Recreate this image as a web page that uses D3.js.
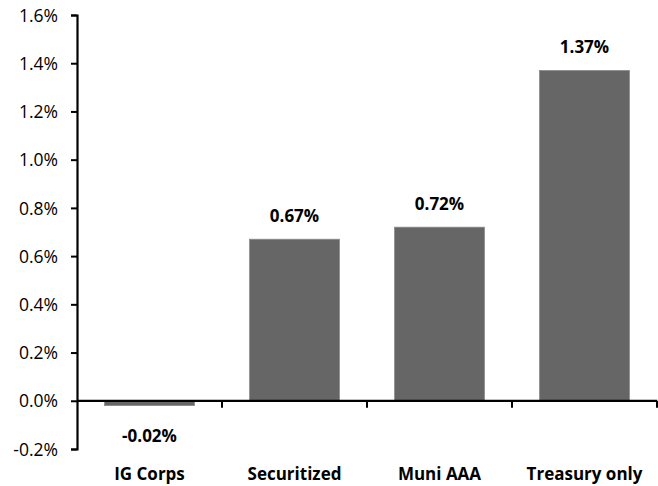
<!DOCTYPE html>
<html>
<head>
<meta charset="utf-8">
<script src="https://cdn.jsdelivr.net/npm/d3@7"></script>
<style>
  html, body { margin: 0; padding: 0; background: #fff; }
  svg { display: block; font-family: "Open Sans", sans-serif; }
</style>
</head>
<body>
<svg id="chart" width="658" height="486"></svg>
<script>
// Excess return by sector
const categories = ["IG Corps", "Securitized", "Muni AAA", "Treasury only"];
const values = [-0.02, 0.67, 0.72, 1.37];
const valueLabels = ["-0.02%", "0.67%", "0.72%", "1.37%"];
const yTicks = [-0.2, 0.0, 0.2, 0.4, 0.6, 0.8, 1.0, 1.2, 1.4, 1.6];

const FONT = "'Open Sans', sans-serif";
const svg = d3.select("#chart");
const plotLeft = 77, plotRight = 657, plotTop = 15, plotBottom = 449;

const x = d3.scaleBand().domain(categories).range([plotLeft, plotRight]).paddingInner(0.38).paddingOuter(0.19);
const y = d3.scaleLinear().domain([-0.2, 1.6]).range([plotBottom, plotTop]);

// Bars
svg.append("g").selectAll("rect").data(values).join("rect")
  .attr("x", (d, i) => x(categories[i]))
  .attr("width", x.bandwidth())
  .attr("y", d => y(Math.max(0, d)))
  .attr("height", d => Math.abs(y(d) - y(0)))
  .attr("fill", "#666666")
  .attr("stroke", "#8a8a8a")
  .attr("stroke-width", 0.8);

// Y axis
const yAxis = svg.append("g")
  .attr("transform", `translate(${plotLeft},0)`)
  .call(d3.axisLeft(y).tickValues(yTicks).tickSize(6).tickPadding(13).tickFormat(d => d.toFixed(1) + "%"));
yAxis.select(".domain").attr("stroke", "#000").attr("stroke-width", 2.2);
yAxis.selectAll(".tick line").attr("stroke", "#000").attr("stroke-width", 2);
yAxis.selectAll(".tick text").attr("font-size", 17.5).attr("fill", "#000")
  .attr("font-family", FONT).attr("dy", "0.35em");

// X axis along the zero line, with ticks between categories
const step = x.step();
const xAxisG = svg.append("g");
xAxisG.append("line")
  .attr("x1", plotLeft).attr("x2", plotRight)
  .attr("y1", y(0)).attr("y2", y(0))
  .attr("stroke", "#000").attr("stroke-width", 2.2);
xAxisG.selectAll("line.tick").data(categories).join("line")
  .attr("class", "tick")
  .attr("x1", c => x(c) + x.bandwidth() + (step - x.bandwidth()) / 2)
  .attr("x2", c => x(c) + x.bandwidth() + (step - x.bandwidth()) / 2)
  .attr("y1", y(0)).attr("y2", y(0) + 7)
  .attr("stroke", "#000").attr("stroke-width", 2);

// Category labels
svg.append("g").selectAll("text").data(categories).join("text")
  .attr("x", c => x(c) + x.bandwidth() / 2)
  .attr("y", 480)
  .attr("text-anchor", "middle")
  .attr("font-family", FONT)
  .attr("font-size", 17)
  .attr("font-weight", "bold")
  .attr("fill", "#000")
  .text(c => c);

// Value labels
svg.append("g").selectAll("text").data(values).join("text")
  .attr("x", (d, i) => x(categories[i]) + x.bandwidth() / 2)
  .attr("y", d => d >= 0 ? y(d) - 17 : y(d) + 36)
  .attr("text-anchor", "middle")
  .attr("font-family", FONT)
  .attr("font-size", 17)
  .attr("font-weight", "bold")
  .attr("fill", "#000")
  .text((d, i) => valueLabels[i]);
</script>
</body>
</html>
